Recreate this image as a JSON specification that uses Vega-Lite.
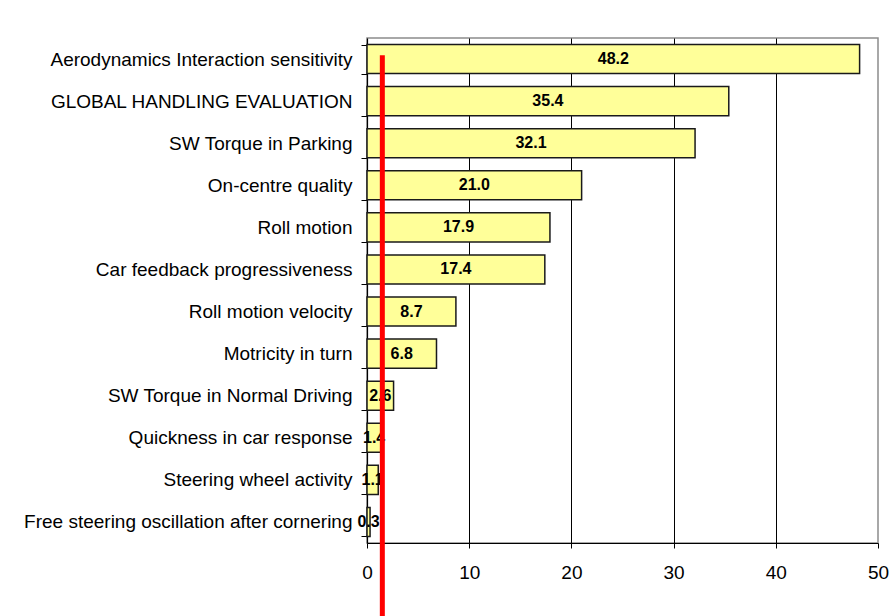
{
  "$schema": "https://vega.github.io/schema/vega-lite/v6.json",
  "autosize": {"type": "none"},
  "width": 511,
  "height": 505,
  "padding": {"left": 367, "top": 38, "right": 16, "bottom": 73},
  "background": "white",
  "config": {
    "font": "Liberation Sans",
    "view": {"stroke": "#8c8c8c", "strokeWidth": 1.5}
  },
  "datasets": {
    "scores": [
      {"item": "Aerodynamics Interaction sensitivity", "value": 48.2},
      {"item": "GLOBAL HANDLING EVALUATION", "value": 35.4},
      {"item": "SW Torque in Parking", "value": 32.1},
      {"item": "On-centre quality", "value": 21.0},
      {"item": "Roll motion", "value": 17.9},
      {"item": "Car feedback progressiveness", "value": 17.4},
      {"item": "Roll motion velocity", "value": 8.7},
      {"item": "Motricity in turn", "value": 6.8},
      {"item": "SW Torque in Normal Driving", "value": 2.6},
      {"item": "Quickness in car response", "value": 1.4},
      {"item": "Steering wheel activity", "value": 1.1},
      {"item": "Free steering oscillation after cornering", "value": 0.3}
    ],
    "threshold": [{"limit": 1.5, "top": 0.966, "bottom": -0.145}]
  },
  "layer": [
    {
      "data": {"name": "scores"},
      "encoding": {
        "y": {
          "field": "item", "type": "nominal",
          "sort": [
            "Aerodynamics Interaction sensitivity",
            "GLOBAL HANDLING EVALUATION",
            "SW Torque in Parking",
            "On-centre quality",
            "Roll motion",
            "Car feedback progressiveness",
            "Roll motion velocity",
            "Motricity in turn",
            "SW Torque in Normal Driving",
            "Quickness in car response",
            "Steering wheel activity",
            "Free steering oscillation after cornering"
          ],
          "scale": {"paddingInner": 0.31, "paddingOuter": 0.155},
          "axis": {
            "title": null, "domainColor": "black", "domainWidth": 1.2,
            "tickColor": "black", "tickSize": 6, "tickBand": "extent",
            "labelFont": "Liberation Sans", "labelFontSize": 19, "labelColor": "black",
            "labelPadding": 9, "labelLimit": 400
          }
        }
      },
      "layer": [
        {
          "mark": {"type": "bar", "fill": "#ffff99", "stroke": "#1a1a1a", "strokeWidth": 1.5},
          "encoding": {
            "x": {
              "field": "value", "type": "quantitative",
              "scale": {"domain": [0, 50], "nice": false},
              "axis": {
                "title": null, "values": [0, 10, 20, 30, 40, 50],
                "domainColor": "black", "domainWidth": 1.2,
                "tickColor": "black", "tickSize": 5,
                "labelFont": "Liberation Sans", "labelFontSize": 19, "labelColor": "black",
                "labelPadding": 15, "labelFlush": false, "labelOverlap": false, "labelBound": false,
                "grid": true, "gridColor": "black", "gridWidth": 1,
                "gridOpacity": {"condition": {"test": "datum.value === 0 || datum.value === 50", "value": 0}, "value": 1}
              }
            }
          }
        },
        {
          "transform": [{"calculate": "datum.value / 2", "as": "mid"}],
          "mark": {"type": "text", "font": "Liberation Sans", "fontSize": 16, "fontWeight": "bold", "color": "black", "align": "center", "baseline": "middle"},
          "encoding": {
            "x": {"field": "mid", "type": "quantitative"},
            "text": {"field": "value", "type": "quantitative", "format": ".1f"}
          }
        }
      ]
    },
    {
      "data": {"name": "threshold"},
      "mark": {"type": "rule", "color": "#ff0000", "strokeWidth": 5, "clip": false},
      "encoding": {
        "x": {"field": "limit", "type": "quantitative"},
        "y": {"field": "bottom", "type": "quantitative", "scale": {"domain": [0, 1], "nice": false, "zero": false}, "axis": null},
        "y2": {"field": "top"}
      }
    }
  ],
  "resolve": {"scale": {"y": "independent"}, "axis": {"y": "independent"}}
}
